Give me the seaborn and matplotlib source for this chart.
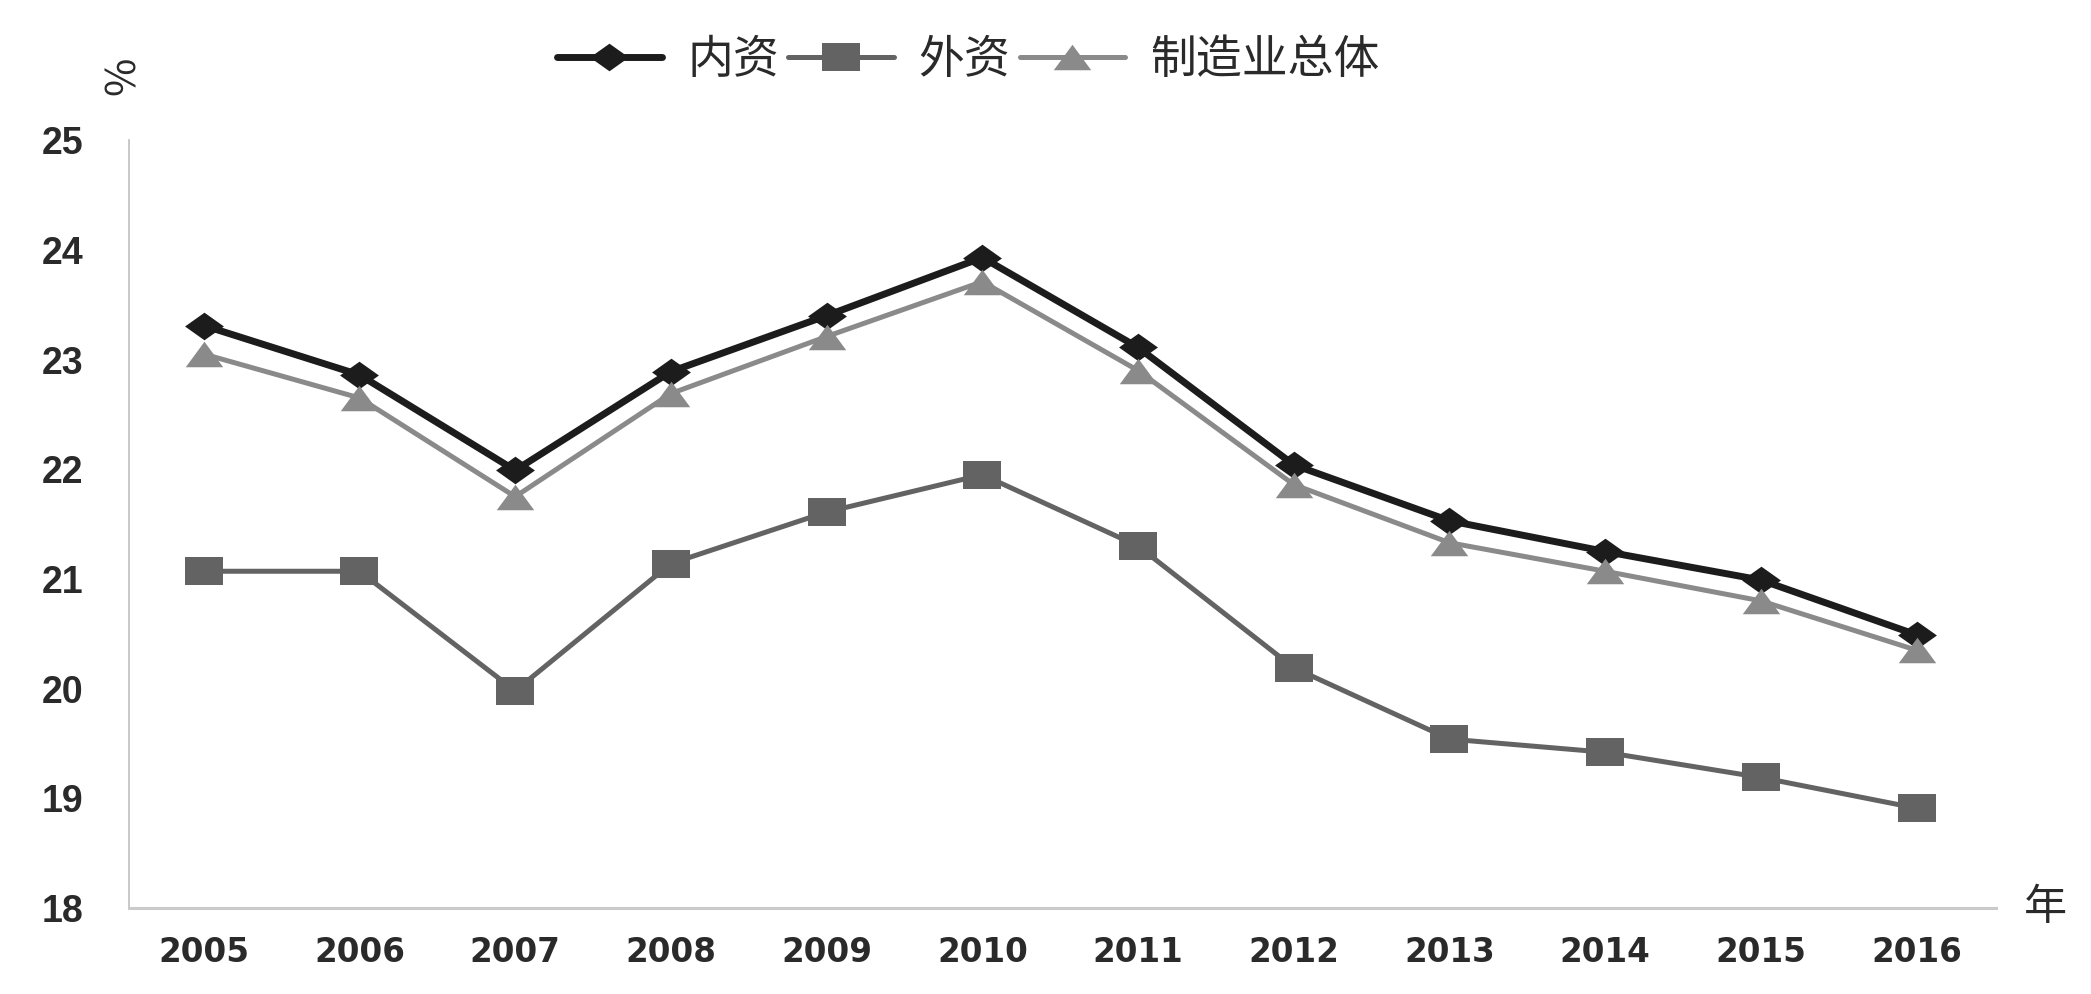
import pandas as pd
import matplotlib
matplotlib.use("Agg")
import matplotlib.pyplot as plt
import seaborn as sns

# data
years = [2005, 2006, 2007, 2008, 2009, 2010, 2011, 2012, 2013, 2014, 2015, 2016]
domestic = [23.31, 22.86, 21.99, 22.89, 23.40, 23.93, 23.11, 22.04, 21.53, 21.25, 20.99, 20.49]
foreign = [21.07, 21.07, 19.98, 21.14, 21.61, 21.95, 21.30, 20.19, 19.54, 19.42, 19.19, 18.91]
overall = [23.05, 22.65, 21.75, 22.69, 23.21, 23.71, 22.90, 21.86, 21.33, 21.07, 20.80, 20.35]
series_names = ["内资", "外资", "制造业总体"]
y_ticks = [18, 19, 20, 21, 22, 23, 24, 25]

sns.set_theme(style="white")
plt.rcParams["font.family"] = ["Noto Sans CJK SC", "DejaVu Sans"]

df = pd.DataFrame({"year": years * 3,
                   "value": domestic + foreign + overall,
                   "series": [series_names[0]] * 12 + [series_names[1]] * 12 + [series_names[2]] * 12})

# the original picture is stretched sideways, so the markers are wider than tall
diamond = [(0, 0.71), (1, 0), (0, -0.71), (-1, 0), (0, 0.71)]
square = [(-1, -0.73), (1, -0.73), (1, 0.73), (-1, 0.73), (-1, -0.73)]
triangle = [(-1, -0.68), (1, -0.68), (0, 0.68), (-1, -0.68)]

styles = {
    "内资": dict(color="#1c1c1c", marker=diamond, markersize=28, linewidth=5.0),
    "外资": dict(color="#636363", marker=square, markersize=27, linewidth=3.6),
    "制造业总体": dict(color="#8a8a8a", marker=triangle, markersize=27, linewidth=3.6),
}

fig = plt.figure(figsize=(20.91, 9.94), dpi=100)
ax = fig.add_axes([0.0617, 0.0865, 0.8929, 0.7725])

for name in series_names:
    st = styles[name]
    sns.lineplot(data=df[df["series"] == name], x="year", y="value", ax=ax,
                 color=st["color"], marker=st["marker"], markersize=st["markersize"],
                 linewidth=st["linewidth"], markeredgewidth=0,
                 markerfacecolor=st["color"], label=name)

ax.set_xlim(2004.52, 2016.51)
ax.set_ylim(18, 25)
ax.set_xticks(years)
ax.set_xticklabels([str(y) for y in years])
ax.set_yticks(y_ticks)
ax.set_xlabel("")
ax.set_ylabel("")
ax.grid(False)

for lab in ax.get_xticklabels():
    lab.set_fontfamily(["DejaVu Sans"])
    lab.set_fontsize(23.5)
    lab.set_fontweight("bold")
    lab.set_color("#2a2a2a")
for lab in ax.get_yticklabels():
    lab.set_fontfamily(["Liberation Sans", "DejaVu Sans"])
    lab.set_fontsize(27)
    lab.set_fontweight("bold")
    lab.set_color("#2a2a2a")
ax.tick_params(axis="x", length=0, pad=20)
ax.tick_params(axis="y", length=0, pad=33)

for side in ["top", "right"]:
    ax.spines[side].set_visible(False)
ax.spines["left"].set_color("#c4c4c4")
ax.spines["left"].set_linewidth(1.3)
ax.spines["bottom"].set_color("#cacaca")
ax.spines["bottom"].set_linewidth(2.2)

ax.legend(loc="center", bbox_to_anchor=(0.463, 0.94), bbox_transform=fig.transFigure,
          ncol=3, frameon=False, fontsize=33, handlelength=2.3, handletextpad=0.55,
          columnspacing=0.2, labelcolor="#2a2a2a")

fig.text(0.0588, 0.924, "%", rotation=90, fontsize=30, color="#2a2a2a",
         ha="center", va="center")
fig.text(0.978, 0.087, "年", fontsize=31, color="#2a2a2a", ha="center", va="center")

fig.savefig("out.png", dpi=100, facecolor="white")
